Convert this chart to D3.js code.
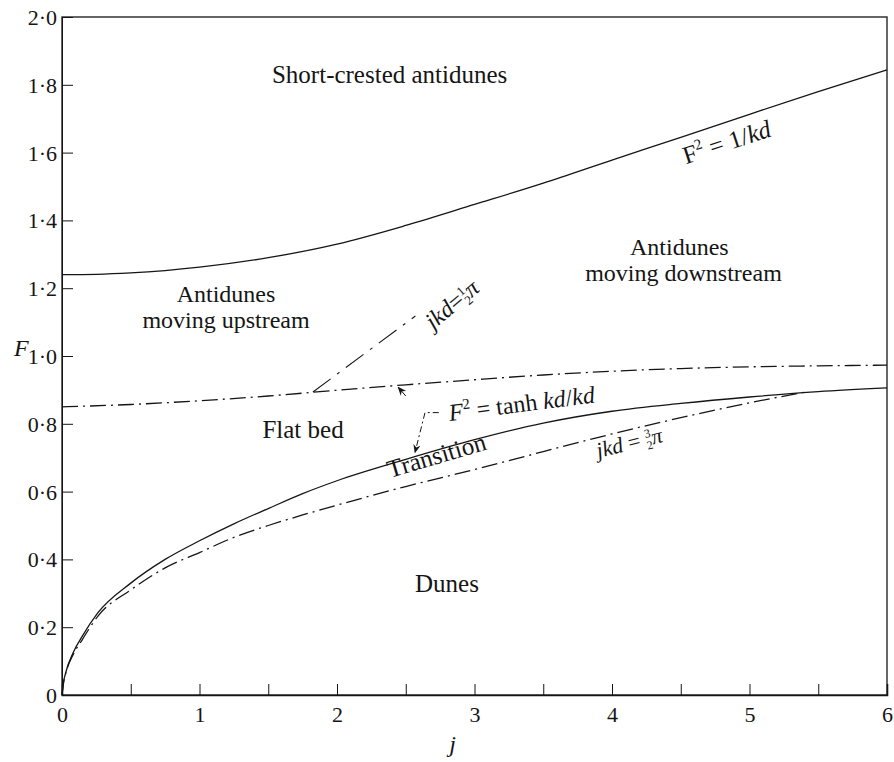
<!DOCTYPE html>
<html>
<head>
<meta charset="utf-8">
<script src="https://cdn.jsdelivr.net/npm/d3@7"></script>
<style>
  body { margin: 0; background: #fff; }
  svg { display: block; }
  svg text { font-family: "Liberation Serif", "Times New Roman", "DejaVu Serif", serif; }
</style>
</head>
<body>
<div id="chart"></div>
<script>
// tick values / labels
const jTickValues = [0, 0.5, 1, 1.5, 2, 2.5, 3, 3.5, 4, 4.5, 5, 5.5, 6];
const fTickValues = [0, 0.2, 0.4, 0.6, 0.8, 1.0, 1.2, 1.4, 1.6, 1.8, 2.0];
const fTickLabels = ["0", "0·2", "0·4", "0·6", "0·8", "1·0", "1·2", "1·4", "1·6", "1·8", "2·0"];

// F^2 = 1/kd  (upper boundary)
const upperJ = [0, 0.25, 0.5, 0.75, 1, 1.5, 2, 2.5, 3, 3.5, 4, 4.5, 5, 5.5, 6];
const upperF = [1.240, 1.241, 1.245, 1.252, 1.262, 1.290, 1.330, 1.385, 1.447, 1.510, 1.578, 1.645, 1.713, 1.780, 1.844];

// jkd = pi/2
const halfPiJ = [0, 0.5, 1, 1.5, 2, 2.5, 3, 3.5, 4, 4.5, 5, 5.5, 6];
const halfPiF = [0.850, 0.857, 0.868, 0.882, 0.899, 0.915, 0.930, 0.944, 0.955, 0.963, 0.968, 0.971, 0.973];

// F^2 = tanh kd / kd
const tanhJ = [0, 0.01, 0.03, 0.08, 0.15, 0.26, 0.5, 0.75, 1, 1.25, 1.5, 1.75, 2, 2.5, 3, 3.5, 4, 4.5, 5, 5.5, 6];
const tanhF = [0, 0.035, 0.070, 0.124, 0.175, 0.242, 0.330, 0.400, 0.455, 0.505, 0.550, 0.594, 0.632, 0.695, 0.753, 0.802, 0.837, 0.860, 0.879, 0.895, 0.906];

// jkd = 3pi/2
const threeHalfPiJ = [0, 0.01, 0.03, 0.08, 0.15, 0.26, 0.5, 0.75, 1, 1.25, 1.5, 1.75, 2, 2.5, 3, 3.5, 4, 4.5, 5, 5.4];
const threeHalfPiF = [0, 0.033, 0.068, 0.118, 0.165, 0.232, 0.310, 0.375, 0.420, 0.465, 0.500, 0.531, 0.560, 0.615, 0.665, 0.718, 0.770, 0.818, 0.862, 0.893];

const margin = {top: 17, right: 7, bottom: 67, left: 62},
    width = 894 - margin.left - margin.right,
    height = 762 - margin.top - margin.bottom;

const serif = "'Liberation Serif', 'Times New Roman', 'DejaVu Serif', serif";

const svg = d3.select("#chart")
  .append("svg")
    .attr("width", width + margin.left + margin.right)
    .attr("height", height + margin.top + margin.bottom)
  .append("g")
    .attr("transform", `translate(${margin.left}, ${margin.top})`)
    .attr("font-family", serif);

const x = d3.scaleLinear().domain([0, 6]).range([0, width]);
const y = d3.scaleLinear().domain([0, 2]).range([height, 0]);

const ink = "#151515";
const dashDot = "16,5,2,5";

// frame
svg.append("rect")
  .attr("x", x(0)).attr("y", y(2))
  .attr("width", x(6) - x(0)).attr("height", y(0) - y(2))
  .attr("fill", "none")
  .attr("stroke", ink)
  .attr("stroke-width", 1.3);

// axes, ticks pointing inward
const xAxis = svg.append("g")
  .attr("transform", `translate(0, ${height})`)
  .call(d3.axisBottom(x)
    .tickValues(jTickValues)
    .tickSize(-11)
    .tickPadding(11)
    .tickFormat(d => Number.isInteger(d) ? d : ""));
xAxis.select(".domain").attr("stroke-width", 1.6);

const yAxis = svg.append("g")
  .call(d3.axisLeft(y)
    .tickValues(fTickValues)
    .tickSize(-11)
    .tickPadding(5)
    .tickFormat((d, i) => fTickLabels[i]));

svg.selectAll(".tick line").attr("stroke", ink).attr("stroke-width", 1);
svg.selectAll(".domain").attr("stroke", ink);
xAxis.attr("font-family", serif).attr("font-size", 22);
yAxis.attr("font-family", serif).attr("font-size", 22);
svg.selectAll(".tick text").attr("fill", ink);
yAxis.selectAll(".tick text").attr("dy", "0.34em");

// axis titles
svg.append("text")
  .attr("x", x(2.84))
  .attr("y", height + 57)
  .attr("text-anchor", "middle")
  .style("font-style", "italic")
  .style("font-size", "24px")
  .attr("fill", ink)
  .text("j");

svg.append("text")
  .attr("x", -48)
  .attr("y", y(1.0))
  .style("font-style", "italic")
  .style("font-size", "24px")
  .attr("fill", ink)
  .text("F");

// curves
const line = d3.line()
  .x(d => x(d[0]))
  .y(d => y(d[1]))
  .curve(d3.curveMonotoneX);

const curves = [
  {j: upperJ, f: upperF, dash: null},
  {j: halfPiJ, f: halfPiF, dash: dashDot},
  {j: tanhJ, f: tanhF, dash: null},
  {j: threeHalfPiJ, f: threeHalfPiF, dash: dashDot}
];

svg.selectAll("curve")
  .data(curves)
  .enter()
  .append("path")
    .attr("d", d => line(d.j.map((v, i) => [v, d.f[i]])))
    .attr("fill", "none")
    .attr("stroke", ink)
    .attr("stroke-width", 1.3)
    .attr("stroke-dasharray", d => d.dash);

// arrow marker
svg.append("defs").append("marker")
    .attr("id", "arrow")
    .attr("viewBox", "0 0 10 10")
    .attr("refX", 9).attr("refY", 5)
    .attr("markerWidth", 9).attr("markerHeight", 9)
    .attr("markerUnits", "userSpaceOnUse")
    .attr("orient", "auto")
  .append("path")
    .attr("d", "M0,1 L10,5 L0,9 L3,5 Z")
    .attr("fill", ink);

// leader for jkd = pi/2
svg.append("line")
  .attr("x1", x(1.825)).attr("y1", y(0.894))
  .attr("x2", x(2.57)).attr("y2", y(1.118))
  .attr("stroke", ink).attr("stroke-width", 1.1)
  .attr("stroke-dasharray", "22,8,3,8");

// small arrow up onto the pi/2 curve
svg.append("line")
  .attr("x1", x(2.50)).attr("y1", y(0.882))
  .attr("x2", x(2.445)).attr("y2", y(0.908))
  .attr("stroke", ink).attr("stroke-width", 1)
  .attr("marker-end", "url(#arrow)");

// leader from the tanh label down onto its curve
svg.append("path")
  .attr("d", d3.line()([
    [x(2.74), y(0.833)],
    [x(2.64), y(0.833)],
    [x(2.567), y(0.715)]
  ]))
  .attr("fill", "none")
  .attr("stroke", ink).attr("stroke-width", 1)
  .attr("stroke-dasharray", "6,3,2,3")
  .attr("marker-end", "url(#arrow)");

// region labels
const regionText = function(t, j, f, size) {
  svg.append("text")
    .attr("x", x(j)).attr("y", y(f))
    .attr("text-anchor", "middle")
    .style("font-size", size + "px")
    .attr("fill", ink)
    .text(t);
};

svg.append("text")
  .attr("x", x(1.527)).attr("y", y(1.805))
  .style("font-size", "25px")
  .attr("fill", ink)
  .text("Short-crested antidunes");

regionText("Antidunes", 1.193, 1.159, 24);
regionText("moving upstream", 1.193, 1.082, 24);
regionText("Antidunes", 4.49, 1.297, 24);
regionText("moving downstream", 4.52, 1.220, 24);
regionText("Flat bed", 1.753, 0.758, 25);
regionText("Dunes", 2.80, 0.304, 25);

// rotated labels
const rotated = function(j, f, angle, size) {
  return svg.append("text")
    .attr("transform", `translate(${x(j)}, ${y(f)}) rotate(${angle})`)
    .style("font-size", size + "px")
    .attr("fill", ink);
};

rotated(2.385, 0.640, -16.5, 25).text("Transition");

const t1 = rotated(4.538, 1.566, -18, 25);
t1.append("tspan").text("F");
t1.append("tspan").attr("dy", -10).style("font-size", "15px").text("2");
t1.append("tspan").attr("dy", 10).text(" = 1/");
t1.append("tspan").style("font-style", "italic").text("kd");

const t2 = rotated(2.82, 0.808, -7.3, 24);
t2.append("tspan").style("font-style", "italic").text("F");
t2.append("tspan").attr("dy", -10).style("font-size", "15px").text("2");
t2.append("tspan").attr("dy", 10).text(" = tanh ");
t2.append("tspan").style("font-style", "italic").text("kd");
t2.append("tspan").text("/");
t2.append("tspan").style("font-style", "italic").text("kd");

const t3 = rotated(2.70, 1.076, -40, 24);
t3.append("tspan").style("font-style", "italic").text("jkd");
t3.append("tspan").text("=");
t3.append("tspan").attr("dy", -8).style("font-size", "13px").text("1");
t3.append("tspan").attr("dx", -6).attr("dy", 12).style("font-size", "13px").text("2");
t3.append("tspan").attr("dy", -4).style("font-style", "italic").text("π");

const t4 = rotated(3.90, 0.699, -14, 22);
t4.append("tspan").style("font-style", "italic").text("jkd");
t4.append("tspan").text(" = ");
t4.append("tspan").attr("dy", -8).style("font-size", "12px").text("3");
t4.append("tspan").attr("dx", -6).attr("dy", 12).style("font-size", "12px").text("2");
t4.append("tspan").attr("dy", -4).style("font-style", "italic").text("π");
</script>
</body>
</html>
